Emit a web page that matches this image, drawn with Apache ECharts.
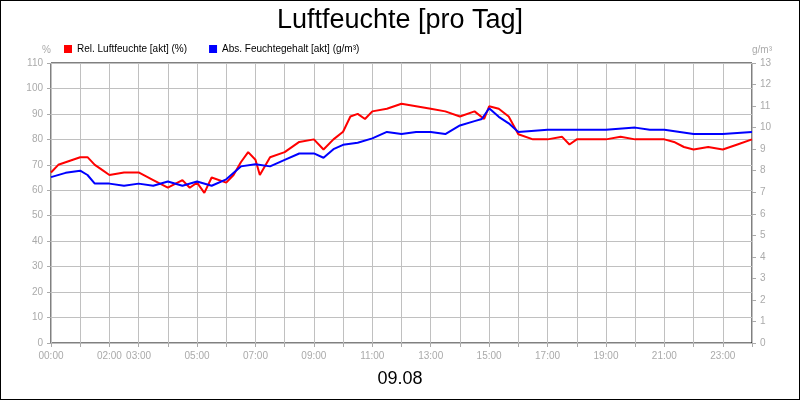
<!DOCTYPE html>
<html><head><meta charset="utf-8">
<script src="https://cdn.jsdelivr.net/npm/echarts@6/dist/echarts.min.js"></script>
<style>html,body{margin:0;padding:0;background:#fff}#c{width:798px;height:398px;border:1px solid #000}</style>
</head><body><div id="c"></div>
<script>
const relTimes=[0,0.25,0.5,0.75,1,1.25,1.5,1.75,2,2.5,3,3.5,4,4.5,4.75,5,5.25,5.5,6,6.25,6.5,6.75,7,7.15,7.5,8,8.5,9,9.33,9.67,10,10.25,10.5,10.75,11,11.5,12,12.5,13,13.5,14,14.5,14.83,15,15.33,15.67,16,16.5,17,17.5,17.75,18,18.5,19,19.5,20,20.5,21,21.33,21.67,22,22.5,23,23.5,24];
const relValues=[67,70,71,72,73,73,70,68,66,67,67,64,61,64,61,63,59,65,63,66,71,75,72,66,73,75,79,80,76,80,83,89,90,88,91,92,94,93,92,91,89,91,88,93,92,89,82,80,80,81,78,80,80,80,81,80,80,80,79,77,76,77,76,78,80];
const absTimes=[0,0.5,1,1.25,1.5,2,2.5,3,3.5,4,4.5,5,5.5,6,6.5,7,7.5,8,8.5,9,9.33,9.67,10,10.5,11,11.5,12,12.5,13,13.5,14,14.5,14.75,15,15.33,15.67,16,17,18,18.5,19,20,20.5,21,22,23,24];
const absValues=[7.7,7.9,8.0,7.8,7.4,7.4,7.3,7.4,7.3,7.5,7.3,7.5,7.3,7.6,8.2,8.3,8.2,8.5,8.8,8.8,8.6,9.0,9.2,9.3,9.5,9.8,9.7,9.8,9.8,9.7,10.1,10.3,10.4,10.9,10.5,10.2,9.8,9.9,9.9,9.9,9.9,10.0,9.9,9.9,9.7,9.7,9.8];
const tickHours=[0,2,3,5,7,9,11,13,15,17,19,21,23];
const pad=n=>(n<10?'0':'')+n+':00';
const chart=echarts.init(document.getElementById('c'));
const grey='#aaaaaa', gl={lineStyle:{color:'#c0c0c0'}};
chart.setOption({
 animation:false,
 title:[{text:'Luftfeuchte [pro Tag]',left:'center',top:1,textStyle:{fontFamily:'Liberation Sans',fontSize:27,fontWeight:'normal',color:'#000'}},
        {text:'09.08',left:'center',top:364,textStyle:{fontFamily:'Liberation Sans',fontSize:18,fontWeight:'normal',color:'#000'}}],
 legend:{left:58,top:38,itemWidth:8,itemHeight:8,itemGap:22,icon:'rect',textStyle:{fontFamily:'Liberation Sans',fontSize:10,color:'#000'},
   data:['Rel. Luftfeuchte [akt] (%)','Abs. Feuchtegehalt [akt] (g/m³)']},
 grid:{left:50,right:47,top:62,bottom:56,show:true,borderColor:'#000',borderWidth:1},
 xAxis:{type:'value',min:0,max:24,interval:1,axisLine:{show:false},axisTick:{show:true,lineStyle:{color:grey},length:4},splitLine:gl,
   axisLabel:{color:grey,fontSize:10,fontFamily:'Liberation Sans',formatter:v=>tickHours.includes(v)?pad(v):''}},
 yAxis:[{type:'value',name:'%',nameGap:8,nameTextStyle:{color:grey,fontSize:10,align:'right'},min:0,max:110,interval:10,
   axisLine:{show:false},axisTick:{show:true,lineStyle:{color:grey},length:4},splitLine:gl,axisLabel:{color:grey,fontSize:10,fontFamily:'Liberation Sans'}},
  {type:'value',name:'g/m³',nameGap:8,nameTextStyle:{color:grey,fontSize:10,align:'left'},min:0,max:13,interval:1,
   axisLine:{show:false},axisTick:{show:true,lineStyle:{color:grey},length:4},splitLine:{show:false},axisLabel:{color:grey,fontSize:10,fontFamily:'Liberation Sans'}}],
 series:[{name:'Rel. Luftfeuchte [akt] (%)',type:'line',showSymbol:false,color:'#ff0000',lineStyle:{width:2},data:relTimes.map((t,i)=>[t,relValues[i]])},
  {name:'Abs. Feuchtegehalt [akt] (g/m³)',type:'line',yAxisIndex:1,showSymbol:false,color:'#0000ff',lineStyle:{width:2},data:absTimes.map((t,i)=>[t,absValues[i]])}]
});
</script></body></html>
